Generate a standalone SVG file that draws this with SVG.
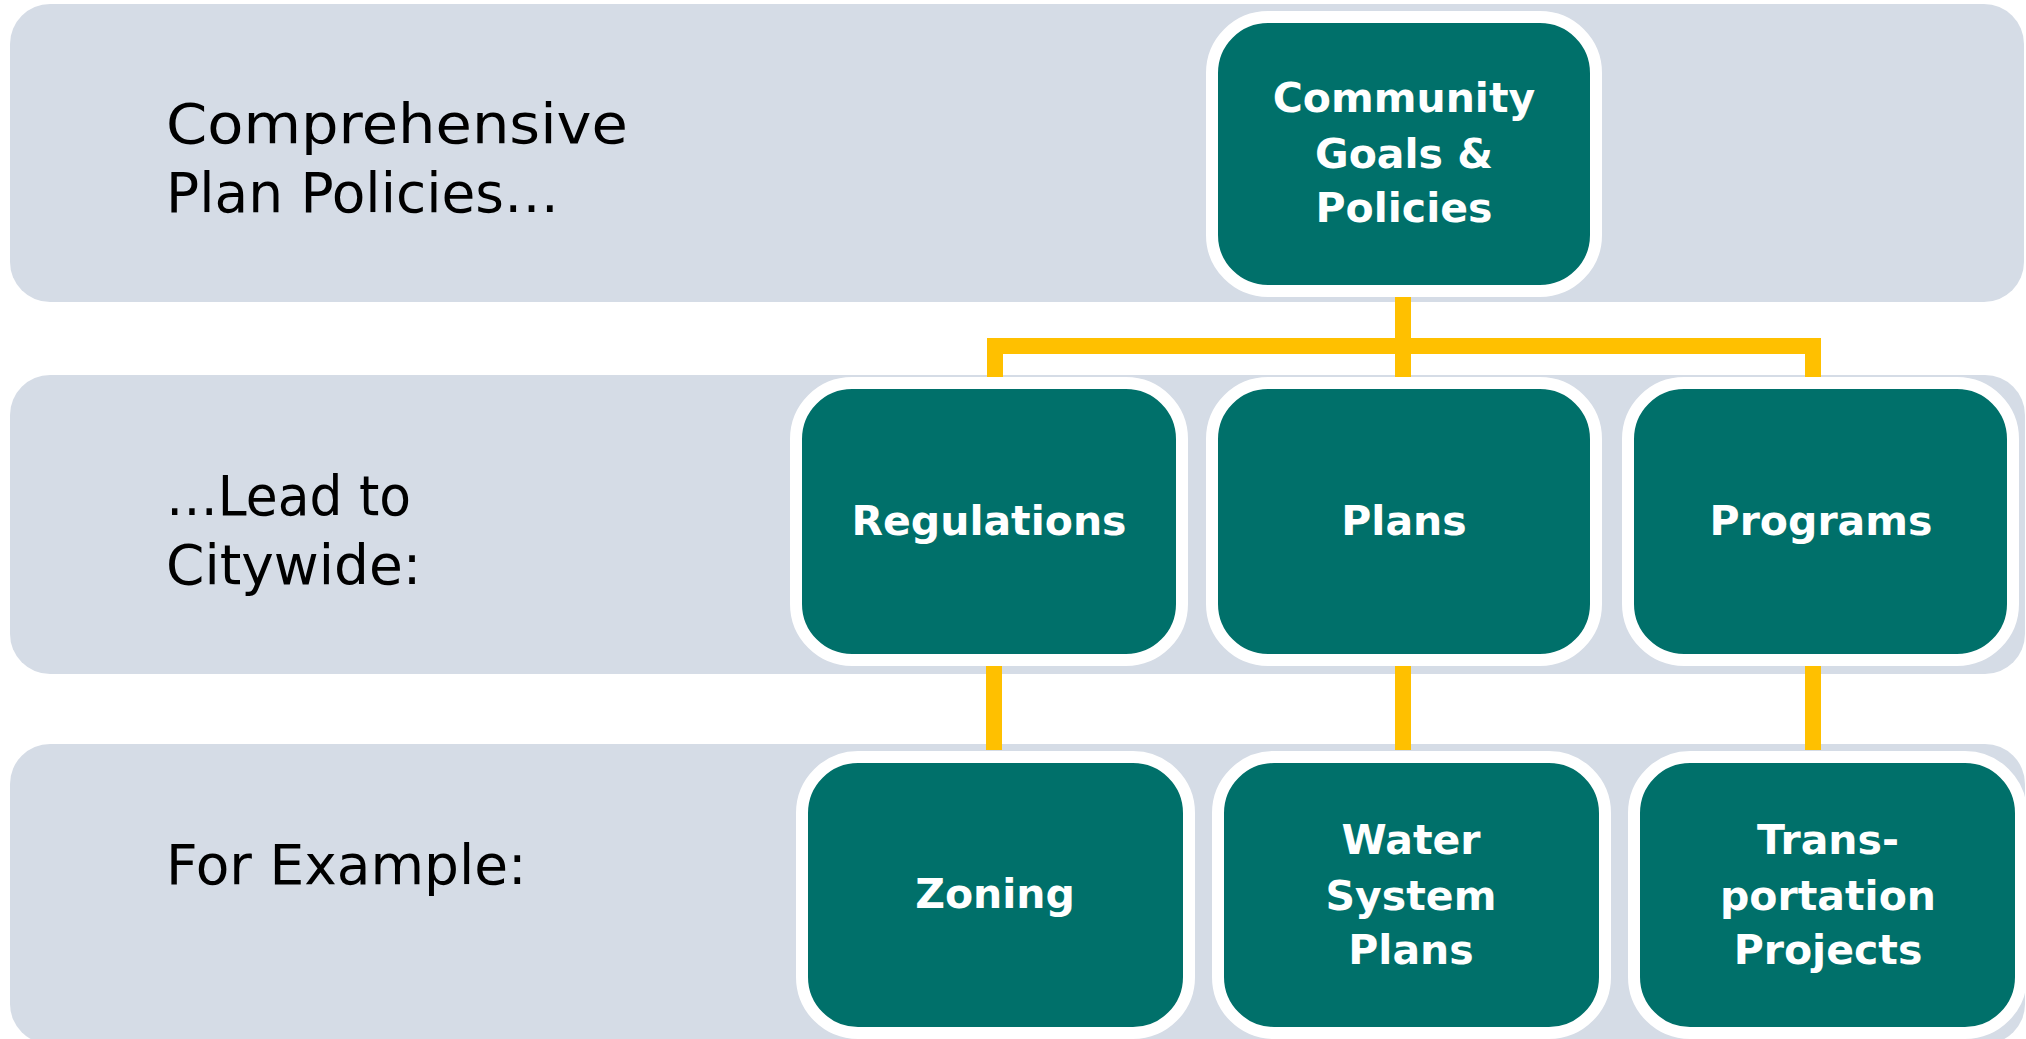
<svg xmlns="http://www.w3.org/2000/svg" width="2026" height="1039" viewBox="0 0 2026 1039">
  <style>
    .band { fill: #D5DCE6; }
    .node { fill: #00706A; stroke: #FFFFFF; stroke-width: 12; }
    .lbl { font-family: "DejaVu Sans", "Liberation Sans", sans-serif; font-size: 55px; fill: #000000; }
    .ntxt { font-family: "DejaVu Sans", "Liberation Sans", sans-serif; font-size: 41px; font-weight: bold; fill: #FFFFFF; text-anchor: middle; }
    .conn { fill: none; stroke: #FFC000; stroke-width: 16; stroke-linejoin: miter; stroke-linecap: butt; }
  </style>
  <rect width="2026" height="1039" fill="#FFFFFF"/>
  <g id="bands">
    <rect class="band" x="10" y="4" width="2014" height="298" rx="40"/>
    <rect class="band" x="10" y="375" width="2015" height="299" rx="40"/>
    <rect class="band" x="10" y="744" width="2015" height="300" rx="40"/>
  </g>
  <g id="row-labels">
    <text class="lbl" x="166" y="143" textLength="462" lengthAdjust="spacingAndGlyphs">Comprehensive</text>
    <text class="lbl" x="166" y="212">Plan Policies…</text>
    <text class="lbl" x="166" y="515" textLength="245" lengthAdjust="spacingAndGlyphs">…Lead to</text>
    <text class="lbl" x="166" y="584">Citywide:</text>
    <text class="lbl" x="166" y="884">For Example:</text>
  </g>
  <g id="connectors">
    <path class="conn" d="M1403,297 V377"/>
    <path class="conn" d="M995,377 V346 H1813 V377"/>
    <path class="conn" d="M994,664 V750"/>
    <path class="conn" d="M1403,664 V750"/>
    <path class="conn" d="M1813,664 V750"/>
  </g>
  <g id="community">
    <rect class="node" x="1212" y="17" width="384" height="274" rx="56"/>
    <text class="ntxt" x="1404" y="112">Community</text>
    <text class="ntxt" x="1404" y="168">Goals &amp;</text>
    <text class="ntxt" x="1404" y="222">Policies</text>
  </g>
  <g id="regulations">
    <rect class="node" x="796" y="383" width="386" height="277" rx="56"/>
    <text class="ntxt" x="989" y="535">Regulations</text>
  </g>
  <g id="plans">
    <rect class="node" x="1212" y="383" width="384" height="277" rx="56"/>
    <text class="ntxt" x="1404" y="535">Plans</text>
  </g>
  <g id="programs">
    <rect class="node" x="1628" y="383" width="385" height="277" rx="56"/>
    <text class="ntxt" x="1821" y="535">Programs</text>
  </g>
  <g id="zoning">
    <rect class="node" x="802" y="757" width="387" height="276" rx="56"/>
    <text class="ntxt" x="995" y="908">Zoning</text>
  </g>
  <g id="water">
    <rect class="node" x="1218" y="757" width="387" height="276" rx="56"/>
    <text class="ntxt" x="1411" y="854">Water</text>
    <text class="ntxt" x="1411" y="910">System</text>
    <text class="ntxt" x="1411" y="964">Plans</text>
  </g>
  <g id="transportation">
    <rect class="node" x="1634" y="757" width="387" height="276" rx="56"/>
    <text class="ntxt" x="1828" y="854">Trans-</text>
    <text class="ntxt" x="1828" y="910">portation</text>
    <text class="ntxt" x="1828" y="964">Projects</text>
  </g>
</svg>
